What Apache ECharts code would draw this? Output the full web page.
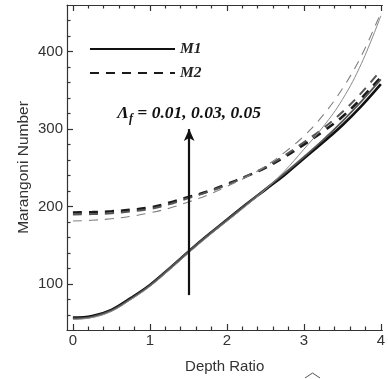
<!DOCTYPE html>
<html>
<head>
<meta charset="utf-8">
<script src="https://cdn.jsdelivr.net/npm/echarts@6/dist/echarts.min.js"></script>
<style>html,body{margin:0;padding:0;background:#fff;}#c{width:388px;height:379px;}</style>
</head>
<body>
<div id="c"></div>
<script>
// Depth ratio samples
const depthRatio = [0, 0.25, 0.5, 0.75, 1, 1.25, 1.5, 1.75, 2, 2.25, 2.5, 2.75, 3, 3.25, 3.5, 3.75, 4];
// M1 (solid) for three Lambda_f values
const m1Thick  = [57, 59, 67, 82, 99, 120, 142, 163, 183, 203, 222, 241, 262, 283, 305, 330, 358];
const m1Medium = [56, 58, 66, 81, 98.5, 120, 142, 163, 183, 203, 223, 243, 264, 286, 310, 336, 364];
const m1Thin   = [54.5, 57, 65, 80, 97, 118, 140, 161, 181, 201, 222, 246, 274, 303, 338, 385, 446];
// M2 (dashed) for three Lambda_f values
const m2Thick  = [192.5, 193, 194, 196, 199, 205, 212.5, 219.5, 229, 239, 250, 264, 280, 297, 316, 340, 367];
const m2Medium = [190, 190.5, 191.5, 194, 197, 203, 211, 219, 228, 239, 251, 266, 283, 301, 322, 347, 376];
const m2Thin   = [181.6, 182.5, 184.5, 187.5, 192, 198, 206, 215, 226, 238, 252, 270, 291, 318, 352, 395, 450];
// axes
const xMajorTicks = [0, 1, 2, 3, 4];
const xMinorTicks = [0.2, 0.4, 0.6, 0.8, 1.2, 1.4, 1.6, 1.8, 2.2, 2.4, 2.6, 2.8, 3.2, 3.4, 3.6, 3.8];
const yMajorTicks = [100, 200, 300, 400];
const yMinorTicks = [60, 80, 120, 140, 160, 180, 220, 240, 260, 280, 320, 340, 360, 380, 420, 440];
const xRange = [-0.077, 4.02];
const yRange = [41, 460];
// arrow (Lambda_f increasing) and its annotation
const arrowX = 1.51;
const arrowY = [86, 300];
const annotationY = 320;
const annotationText = '= 0.01, 0.03, 0.05';

const pair = (vals) => depthRatio.map((x, i) => [x, vals[i]]);
const lineS = (name, vals, color, width, type) => ({
  name: name, type: 'line', data: pair(vals), smooth: 0.4, symbol: 'none',
  xAxisIndex: 0, yAxisIndex: 0,
  lineStyle: { color: color, width: width, type: type }, itemStyle: { color: color, opacity: 0 }
});

const tickFont = { fontFamily: 'Liberation Sans', fontSize: 15, color: '#333' };
const axisLineStyle = { color: '#333', width: 1.2 };

const chart = echarts.init(document.getElementById('c'), null, { renderer: 'canvas' });

const series = [
  lineS('M2', m2Thick, '#1a1a1a', 2.6, [9, 7]),
  lineS('M2 b', m2Medium, '#555', 2, [9, 7]),
  lineS('M2 c', m2Thin, '#808080', 1.1, [9, 7]),
  lineS('M1', m1Thick, '#111', 2.6, 'solid'),
  lineS('M1 b', m1Medium, '#555', 1.8, 'solid'),
  lineS('M1 c', m1Thin, '#8a8a8a', 1, 'solid')
];
series[3].markLine = {
  silent: true, animation: false,
  symbol: ['none', 'arrow'], symbolSize: [8, 12],
  label: { show: false },
  lineStyle: { color: '#111', width: 2.2, type: 'solid' },
  data: [[{ coord: [arrowX, arrowY[0]] }, { coord: [arrowX, arrowY[1]] }]]
};
series[3].markPoint = {
  silent: true, animation: false, symbol: 'circle', symbolSize: 0,
  itemStyle: { color: 'transparent', opacity: 1 },
  label: {
    show: true, position: 'inside',
    formatter: '{a|Λ}{s|f}{a| ' + annotationText + '}',
    rich: {
      a: { fontFamily: 'Liberation Serif', fontWeight: 'bold', fontStyle: 'italic', fontSize: 17.5, color: '#111', lineHeight: 22, verticalAlign: 'middle' },
      s: { fontFamily: 'Liberation Serif', fontWeight: 'bold', fontStyle: 'italic', fontSize: 12, color: '#111', lineHeight: 13, verticalAlign: 'bottom' }
    }
  },
  data: [{ coord: [arrowX, annotationY] }]
};

const xBase = { type: 'value', min: xRange[0], max: xRange[1], gridIndex: 0, splitLine: { show: false } };
const yBase = { type: 'value', min: yRange[0], max: yRange[1], gridIndex: 0, splitLine: { show: false } };

chart.setOption({
  animation: false,
  backgroundColor: '#fff',
  grid: { left: 67, right: 0, top: 5, bottom: 49, containLabel: false },
  legend: {
    data: ['M1', 'M2'], orient: 'vertical', left: 84, top: 36,
    itemWidth: 85, itemHeight: 14, itemGap: 8,
    selectedMode: false,
    itemStyle: { opacity: 0 },
    textStyle: { fontFamily: 'Liberation Serif', fontWeight: 'bold', fontStyle: 'italic', fontSize: 15.5, color: '#222', lineHeight: 14, padding: [0, 0, 0, 0] }
  },
  xAxis: [
    Object.assign({}, xBase, {
      position: 'bottom',
      axisLine: { show: true, onZero: false, lineStyle: axisLineStyle },
      axisTick: { show: true, inside: true, length: 6, customValues: xMajorTicks, lineStyle: axisLineStyle },
      axisLabel: Object.assign({ show: true, margin: 3, customValues: xMajorTicks }, tickFont),
      name: 'Depth Ratio', nameLocation: 'middle', nameGap: 29, nameMoveOverlap: false,
      nameTextStyle: { fontFamily: 'Liberation Sans', fontSize: 15, color: '#333' }
    }),
    Object.assign({}, xBase, {
      position: 'bottom',
      axisLine: { show: false, onZero: false },
      axisTick: { show: true, inside: true, length: 3.5, customValues: xMinorTicks, lineStyle: axisLineStyle },
      axisLabel: { show: false }
    }),
    Object.assign({}, xBase, {
      position: 'top',
      axisLine: { show: true, onZero: false, lineStyle: axisLineStyle },
      axisTick: { show: true, inside: true, length: 6, customValues: xMajorTicks, lineStyle: axisLineStyle },
      axisLabel: { show: false }
    }),
    Object.assign({}, xBase, {
      position: 'top',
      axisLine: { show: false, onZero: false },
      axisTick: { show: true, inside: true, length: 3.5, customValues: xMinorTicks, lineStyle: axisLineStyle },
      axisLabel: { show: false }
    })
  ],
  yAxis: [
    Object.assign({}, yBase, {
      position: 'left',
      axisLine: { show: true, onZero: false, lineStyle: axisLineStyle },
      axisTick: { show: true, inside: true, length: 6, customValues: yMajorTicks, lineStyle: axisLineStyle },
      axisLabel: Object.assign({ show: true, margin: 4, customValues: yMajorTicks }, tickFont),
      name: 'Marangoni Number', nameLocation: 'middle', nameGap: 35, nameMoveOverlap: false,
      nameTextStyle: { fontFamily: 'Liberation Sans', fontSize: 15.5, color: '#333' }
    }),
    Object.assign({}, yBase, {
      position: 'left',
      axisLine: { show: false, onZero: false },
      axisTick: { show: true, inside: true, length: 3.5, customValues: yMinorTicks, lineStyle: axisLineStyle },
      axisLabel: { show: false }
    })
  ],
  series: series,
  graphic: [{
    type: 'polyline', silent: true,
    shape: { points: [[305, 378], [312.5, 373], [320, 378]] },
    style: { stroke: '#555', lineWidth: 1, fill: null }
  }]
});
</script>
</body>
</html>
